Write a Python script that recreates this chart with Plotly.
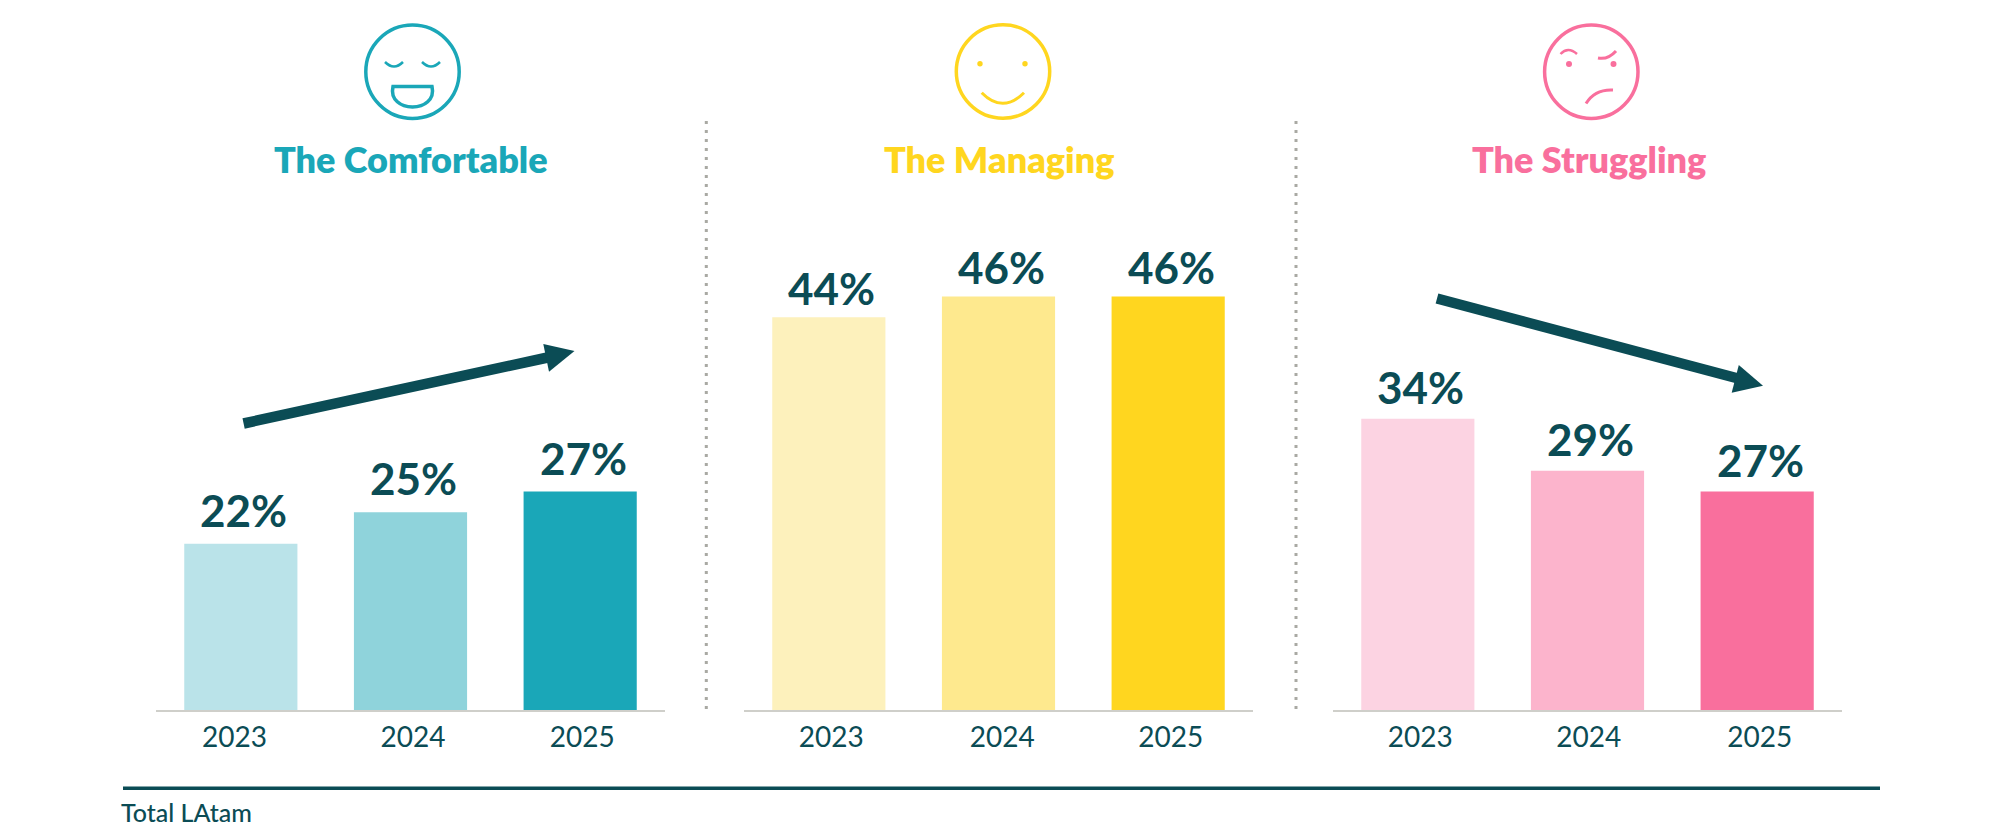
import plotly.graph_objects as go

W, H = 2000, 832

years = [2023, 2024, 2025]
year_labels = ["2023", "2024", "2025"]
segments = ["The Comfortable", "The Managing", "The Struggling"]
comfortable_shares = [22, 25, 27]
managing_shares = [44, 46, 46]
struggling_shares = [34, 29, 27]
# drawn bar heights (the source bars are not strictly proportional)
comfortable_heights = [18.5, 22.0, 24.3]
managing_heights = [43.7, 46.0, 46.0]
struggling_heights = [32.4, 26.6, 24.3]

TEAL = ["#bae3e9", "#8fd3db", "#1aa7b8"]
YELLOW = ["#fdf1bc", "#fee98e", "#ffd61f"]
PINK = ["#fcd3e2", "#fcb4cc", "#f96f9d"]
DARK = "#0b4c55"
GREY = "#cfcfca"
DOT = "#a9a9a3"
FONT = "Lato"


def fx(p):
    return p / W


def fy(p):
    return 1 - p / H


def path(cmds):
    """SVG path written in picture pixels, converted to paper coordinates."""
    out = []
    for c in cmds:
        if isinstance(c, str):
            out.append(c)
        else:
            out.append(f"{fx(c[0]):.5f},{fy(c[1]):.5f}")
    return " ".join(out)


def stroke(cmds, color, width):
    return dict(type="path", xref="paper", yref="paper", path=path(cmds),
                line=dict(color=color, width=width), fillcolor="rgba(0,0,0,0)", layer="above")


def filled(cmds, color):
    return dict(type="path", xref="paper", yref="paper", path=path(cmds),
                line=dict(width=0), fillcolor=color, layer="above")


def circle(cx, cy, r, color, width=0, fill=None):
    return dict(type="circle", xref="paper", yref="paper",
                x0=fx(cx - r), x1=fx(cx + r), y0=fy(cy + r), y1=fy(cy - r),
                line=dict(color=color, width=width), fillcolor=fill or "rgba(0,0,0,0)")


fig = go.Figure()

# last items: horizontal nudge of each tick label (px), vertical lift of value labels (px)
panels = [
    ("", comfortable_shares, comfortable_heights, TEAL, 156, 665, [-6.4, 2.5, 2], 6),
    ("2", managing_shares, managing_heights, YELLOW, 744, 1253, [2.5, 3.8, 2.5], 1),
    ("3", struggling_shares, struggling_heights, PINK, 1333, 1842, [2.5, 1.3, 2.5], 4),
]
BASE = 710.0
TOP = 260.5
PITCH = 170.0

annotations = []
for (suf, shares, heights, colors, x0, x1, nudges, lift), name in zip(panels, segments):
    fig.add_trace(go.Bar(x=years, y=heights, name=name, width=0.667,
                         marker=dict(color=colors, line=dict(width=0)),
                         xaxis="x" + suf, yaxis="y" + suf, showlegend=False,
                         hovertemplate="%{x}: %{customdata}%<extra></extra>",
                         customdata=shares))
    fig.update_layout({
        "xaxis" + suf: dict(domain=[fx(x0), fx(x1)], range=[2022.5, 2025.5],
                            anchor="y" + suf, showgrid=False, zeroline=False,
                            showline=True, linecolor=GREY, linewidth=2, ticks="",
                            tickmode="array",
                            tickvals=[yr + n / PITCH for yr, n in zip(years, nudges)],
                            ticktext=year_labels, ticklabelstandoff=1,
                            tickfont=dict(family=FONT, size=28, color=DARK, weight=400)),
        "yaxis" + suf: dict(domain=[fy(BASE), fy(TOP)], range=[0, 50], anchor="x" + suf,
                            visible=False, showgrid=False, zeroline=False),
    })
    for yr, h, s in zip(years, heights, shares):
        annotations.append(dict(x=yr, y=h, xref="x" + suf, yref="y" + suf, text=f"{s}%",
                                showarrow=False, yanchor="bottom", yshift=lift, xshift=3,
                                font=dict(family=FONT, size=44, color=DARK, weight=700)))

titles_x = [411, 999, 1589]
for name, tx, c in zip(segments, titles_x, [TEAL[2], YELLOW[2], PINK[2]]):
    annotations.append(dict(x=fx(tx), y=fy(158.7), xref="paper", yref="paper", text=name,
                            showarrow=False, xanchor="center", yanchor="middle",
                            font=dict(family=FONT, size=36, color=c, weight=800)))
annotations.append(dict(x=fx(119), y=fy(812), xref="paper", yref="paper", text="Total LAtam",
                        showarrow=False, xanchor="left", yanchor="middle",
                        font=dict(family=FONT, size=25, color=DARK, weight=500)))

t, y, p = TEAL[2], YELLOW[2], PINK[2]
shapes = [
    # comfortable face
    circle(412.5, 71.7, 46.7, t, 3.5),
    stroke(["M", (385, 62), "Q", (394, 71), (403, 62)], t, 2.5),
    stroke(["M", (422, 62), "Q", (431, 71), (440, 62)], t, 2.5),
    stroke(["M", (393, 86.5), "L", (432, 86.5), "C", (435, 100), (424, 107), (412.5, 107),
            "C", (401, 107), (390, 100), (393, 86.5), "Z"], t, 3.5),
    # managing face
    circle(1003, 71.5, 46.7, y, 3.5),
    circle(980, 63.7, 2.7, y, 0, y),
    circle(1025, 63.7, 2.7, y, 0, y),
    stroke(["M", (981.7, 92.7), "Q", (1002.7, 114), (1024, 92.7)], y, 3),
    # struggling face
    circle(1591.3, 71.7, 46.7, p, 3.5),
    stroke(["M", (1560.5, 54), "Q", (1568, 46), (1577, 54)], p, 2.5),
    stroke(["M", (1598, 58), "Q", (1608, 60), (1616, 51)], p, 3),
    circle(1569, 64, 3, p, 0, p),
    circle(1613.5, 64, 3, p, 0, p),
    stroke(["M", (1586, 103.5), "Q", (1595, 89), (1613, 90)], p, 3),
    # trend arrows
    stroke(["M", (243.6, 423.5), "L", (550, 357)], DARK, 10.5),
    filled(["M", (574.5, 351), "L", (543.3, 344), "L", (549, 371.7), "Z"], DARK),
    stroke(["M", (1437, 298.5), "L", (1740, 379)], DARK, 10.5),
    filled(["M", (1763, 385.7), "L", (1738.8, 365), "L", (1731.7, 392.7), "Z"], DARK),
]
# dotted separators and the footer rule
for sx in (706.3, 1296):
    shapes.append(dict(type="line", xref="paper", yref="paper", x0=fx(sx), x1=fx(sx),
                       y0=fy(121), y1=fy(712), line=dict(color=DOT, width=3, dash="3px,6px")))
shapes.append(dict(type="line", xref="paper", yref="paper", x0=fx(123), x1=fx(1880),
                   y0=fy(788.3), y1=fy(788.3), line=dict(color=DARK, width=3.5)))

fig.update_layout(width=W, height=H, margin=dict(l=0, r=0, t=0, b=0),
                  paper_bgcolor="white", plot_bgcolor="white",
                  annotations=annotations, shapes=shapes)

fig.write_html("out.html", config={"displayModeBar": False},
               post_script="document.body.style.margin='0';")
